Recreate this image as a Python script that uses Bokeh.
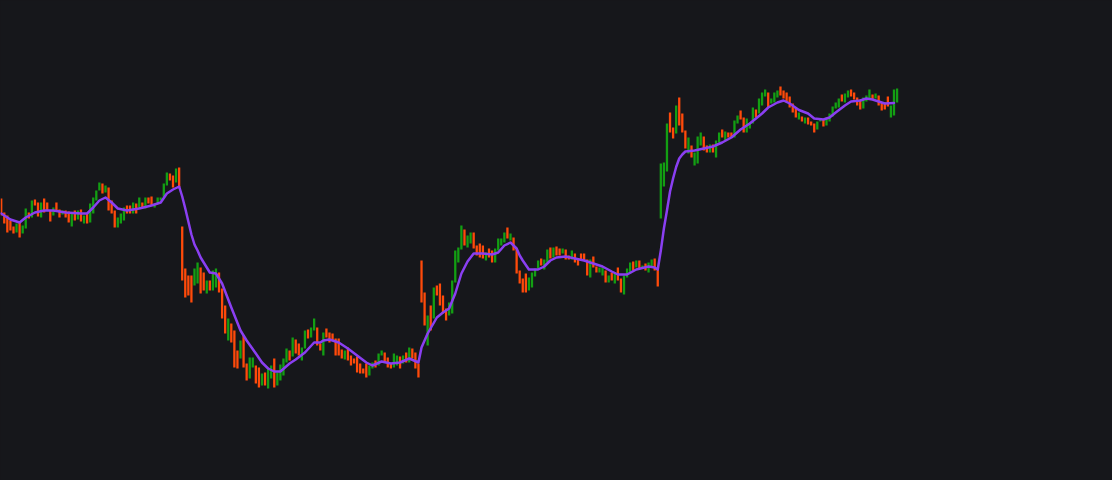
from bokeh.plotting import figure
from bokeh.models import ColumnDataSource, Range1d
from bokeh.embed import file_html
from bokeh.resources import INLINE

# Candle data (open / close per session)
opens = [28.2,26.8,26.5,26.0,25.4,24.8,25.8,24.7,25.2,26.8,
26.3,28.1,27.8,26.3,28.2,27.8,27.0,26.5,27.8,27.1,
26.6,27.0,26.9,25.4,27.0,26.1,27.1,25.7,26.7,25.8,
26.7,28.0,29.0,29.7,28.8,29.3,28.0,27.0,25.3,25.7,
26.0,27.5,27.5,26.7,27.7,27.2,27.8,27.2,28.3,28.4,
27.3,27.7,28.0,28.3,29.5,30.7,30.5,29.8,31.3,25.4,
21.2,20.5,20.5,19.5,19.7,21.3,20.8,18.7,20.0,19.0,
19.3,20.8,19.2,17.5,14.0,15.7,15.0,13.0,12.2,14.5,
11.7,10.2,11.3,11.5,11.3,9.5,10.8,9.2,10.2,12.2,
9.5,10.0,10.5,11.8,13.0,12.4,14.1,13.7,12.0,13.2,
15.1,14.3,15.0,15.3,13.7,12.5,15.2,14.8,14.7,14.2,
14.2,13.1,12.1,13.3,12.5,12.2,12.4,11.7,11.2,11.7,
10.5,11.2,12.0,11.5,12.5,12.8,12.3,11.7,11.3,11.5,
12.4,11.7,12.8,11.8,13.2,12.8,11.7,22.0,18.8,13.5,
17.5,16.2,19.5,19.7,18.5,17.2,16.5,16.7,19.8,21.8,
23.1,25.1,23.3,23.7,24.8,23.5,23.7,23.5,22.0,23.2,
23.0,21.8,23.0,23.5,23.8,25.3,24.0,24.3,23.2,21.0,
20.2,20.7,19.0,19.3,20.4,21.2,22.2,21.1,21.8,23.3,
22.3,23.4,23.2,22.7,23.1,22.5,22.1,22.7,22.1,22.7,
22.7,22.1,20.3,22.4,21.4,20.8,20.5,21.0,19.8,20.8,
19.7,21.3,20.2,18.6,20.3,20.7,21.9,21.3,22.0,21.2,
21.7,20.8,21.4,22.2,21.2,26.2,29.4,30.9,36.8,35.3,
34.7,38.3,36.7,35.0,32.7,33.5,31.5,31.7,33.5,34.4,
33.5,32.8,33.6,32.3,33.8,35.1,34.0,34.8,34.8,34.3,
35.7,37.0,36.3,34.8,35.2,35.7,37.1,36.7,37.5,38.4,
38.8,37.7,37.8,38.3,39.4,39.0,38.8,38.4,37.7,37.3,
36.1,36.4,35.7,36.3,35.9,35.7,35.1,35.9,36.1,35.5,
35.9,36.4,37.2,37.3,38.6,37.8,38.3,39.1,38.8,38.3,
38.1,37.2,37.9,38.2,38.6,38.2,38.5,37.8,37.8,38.4,
36.3,36.5,37.8]

closes = [26.5,25.7,24.8,25.0,24.7,25.7,24.3,25.5,27.2,26.2,
28.0,27.5,26.4,27.8,26.8,27.0,25.9,27.3,27.0,26.3,
27.0,26.3,25.8,26.7,26.0,27.0,25.9,26.5,25.7,27.7,
28.3,29.0,29.8,28.7,29.5,27.0,26.7,25.3,26.3,26.7,
27.3,26.7,26.7,27.8,26.7,28.3,27.2,28.3,27.7,27.5,
27.7,28.3,28.3,29.7,30.8,30.0,29.3,31.2,29.3,20.0,
18.3,18.5,17.8,21.2,21.8,18.7,19.0,20.0,19.0,21.0,
21.2,18.8,16.2,14.7,16.2,13.8,11.3,11.2,14.0,11.3,
10.0,12.3,12.3,9.7,9.3,10.7,9.5,11.3,11.5,9.3,
10.8,11.6,12.2,13.2,12.0,14.3,12.7,12.5,13.3,15.0,
14.2,15.3,16.2,13.5,13.0,14.8,14.3,13.8,14.0,12.5,
12.5,12.2,13.0,12.0,11.5,11.7,10.8,10.7,10.7,10.3,
11.5,11.8,11.3,12.7,13.0,11.8,11.3,11.2,12.7,12.5,
11.2,12.5,11.8,13.3,12.2,11.2,10.3,17.8,15.5,16.5,
15.0,19.3,18.5,17.5,16.7,16.0,17.8,20.0,23.0,23.3,
25.5,23.5,24.5,24.8,23.2,22.5,22.3,22.2,22.8,22.3,
21.8,23.2,24.2,24.2,24.8,24.2,24.7,23.0,20.7,19.7,
18.8,18.8,20.3,20.8,21.2,22.0,21.5,22.1,23.1,22.2,
23.3,22.5,22.5,23.2,22.1,22.1,23.0,21.8,21.5,22.1,
22.0,20.5,22.1,21.3,20.8,21.3,21.3,19.8,20.5,20.0,
20.8,20.0,18.8,20.5,21.2,21.8,21.0,22.0,21.2,21.5,
21.0,21.8,22.1,21.0,19.4,31.7,31.8,35.7,34.8,34.2,
37.5,35.5,34.8,33.2,34.3,32.3,32.8,34.4,34.8,33.0,
32.8,33.6,32.8,34.0,34.8,34.3,34.9,34.3,34.3,36.0,
36.5,36.1,34.8,36.2,35.7,37.3,36.3,38.2,38.8,39.1,
37.3,38.2,38.8,39.0,38.5,38.2,37.8,37.3,36.8,36.3,
36.8,35.9,36.3,35.6,35.5,34.8,35.9,36.1,35.4,36.3,
36.7,37.4,37.8,38.2,37.9,38.7,39.0,38.4,38.1,37.5,
37.1,38.3,38.5,39.1,38.1,38.7,37.5,37.0,37.1,37.4,
37.5,39.1,39.2]

# Moving average (session index, value)
ma_idx = [0,3,6,8,11,14,17,21,26,28,30,32,34,36,38,41,45,49,52,54,56,58,59,60,61,62,63,64,65,
          68,70,72,75,78,80,83,85,87,89,91,94,96,99,102,104,105,107,110,113,116,119,121,124,127,
          130,133,136,137,139,142,144,146,148,150,152,154,157,160,162,164,166,168,169,170,172,175,
          177,179,181,184,187,190,193,196,199,201,204,207,211,213,214,215,216,217,218,219,220,221,
          222,223,226,229,232,235,238,241,244,248,250,253,255,257,260,263,265,268,270,272,275,277,
          280,282,284,288,291]
ma_val = [26.7,26.1,25.8,26.3,26.8,27.0,27.0,26.8,26.7,26.7,27.3,28.0,28.3,27.8,27.2,27.0,27.2,27.5,
          27.8,28.7,29.1,29.4,28.4,27.2,25.9,24.6,23.6,23.0,22.3,
          20.8,20.7,19.7,17.3,15.0,14.0,12.7,11.8,11.2,10.9,10.9,11.7,12.1,12.8,13.8,13.8,14.0,14.1,
          13.8,13.2,12.5,11.8,11.5,11.9,11.7,
          11.8,12.2,11.8,13.3,14.7,16.3,16.8,17.2,18.7,20.7,21.9,22.7,22.7,22.6,22.8,23.5,23.8,23.2,
          22.5,22.0,21.1,21.1,
          21.4,22.0,22.3,22.4,22.2,22.0,21.7,21.4,20.9,20.6,20.6,21.1,21.4,21.3,21.1,23.0,25.2,27.0,
          28.9,30.2,31.35,32.2,
          32.6,32.9,33.0,33.2,33.4,33.8,34.3,35.1,35.7,36.7,37.3,37.8,38.0,37.7,37.05,36.7,36.2,36.1,
          36.3,36.8,37.5,37.9,
          38.0,38.2,38.1,37.7,37.75]

BG = "#16171b"
UP = "#139f13"
DOWN = "#ff4a0a"
MA_COLOR = "#8a3ff2"

n = len(opens)
xs = list(range(n))
tops = [max(o, c) for o, c in zip(opens, closes)]
bots = [min(o, c) for o, c in zip(opens, closes)]
cols = [UP if c > o else DOWN for o, c in zip(opens, closes)]

src = ColumnDataSource(dict(x=xs, top=tops, bottom=bots, color=cols))

p = figure(width=1112, height=480, output_backend="svg", toolbar_location=None,
           x_range=Range1d(-0.228, 362.22), y_range=Range1d(0, 48),
           min_border=0, min_border_left=0, min_border_right=0,
           min_border_top=0, min_border_bottom=0)
p.xaxis.visible = False
p.yaxis.visible = False
p.grid.visible = False
p.background_fill_color = BG
p.border_fill_color = BG
p.outline_line_color = None

p.vbar(x="x", top="top", bottom="bottom", width=0.75, color="color", line_width=0, source=src)
p.line(ma_idx, ma_val, line_color=MA_COLOR, line_width=2.5, line_join="round", line_cap="round")

html = file_html(p, INLINE)
html = html.replace("<head>", "<head><style>html,body{margin:0;padding:0;background:%s;overflow:hidden;}</style>" % BG, 1)
open("out.html", "w").write(html)
